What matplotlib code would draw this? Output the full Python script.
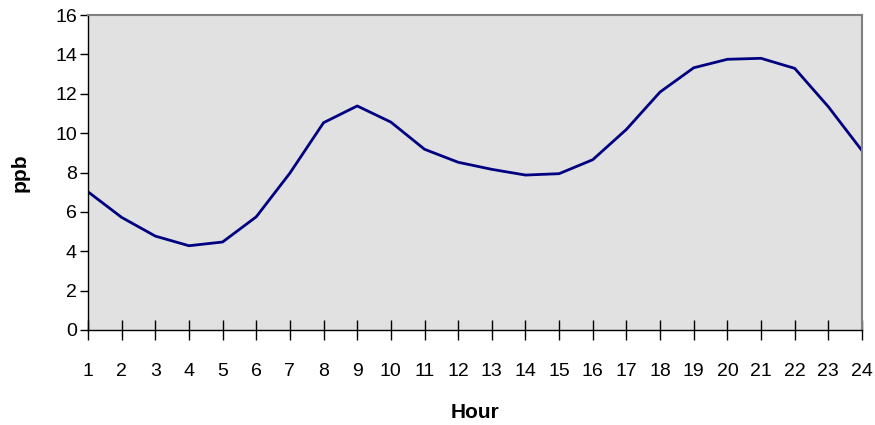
import matplotlib
matplotlib.use("Agg")
import matplotlib.pyplot as plt

hours = list(range(1, 25))
ppb = [7.02, 5.72, 4.77, 4.28, 4.47, 5.75, 7.97, 10.53, 11.38, 10.56, 9.18, 8.52,
       8.16, 7.87, 7.94, 8.65, 10.19, 12.09, 13.32, 13.75, 13.80, 13.29, 11.34, 9.11]
yticks = [0, 2, 4, 6, 8, 10, 12, 14, 16]

plt.rcParams['font.family'] = ['Liberation Sans', 'DejaVu Sans']

fig = plt.figure(figsize=(8.75, 4.25), dpi=100)
ax = fig.add_axes([88/875, 1 - 330/425, (862-88)/875, (330-15)/425])
ax.set_facecolor('#e1e1e1')
ax.plot(hours, ppb, color='#000080', linewidth=2)
ax.set_xlim(1, 24)
ax.set_ylim(0, 16)
ax.set_xticks(hours)
ax.set_yticks(yticks)
ax.tick_params(axis='x', direction='inout', length=14, width=1, pad=17, labelsize=14)
ax.tick_params(axis='y', direction='out', length=6, width=1, pad=2, labelsize=14)
for s in ['top', 'right']:
    ax.spines[s].set_color('#808080')
    ax.spines[s].set_linewidth(1.5)
for s in ['left', 'bottom']:
    ax.spines[s].set_color('black')
    ax.spines[s].set_linewidth(1)
ax.set_xlabel('Hour', fontsize=15, fontweight='bold', labelpad=16)
ax.set_ylabel('ppb', fontsize=15, fontweight='bold', labelpad=18)
fig.savefig('out.png', dpi=100)
